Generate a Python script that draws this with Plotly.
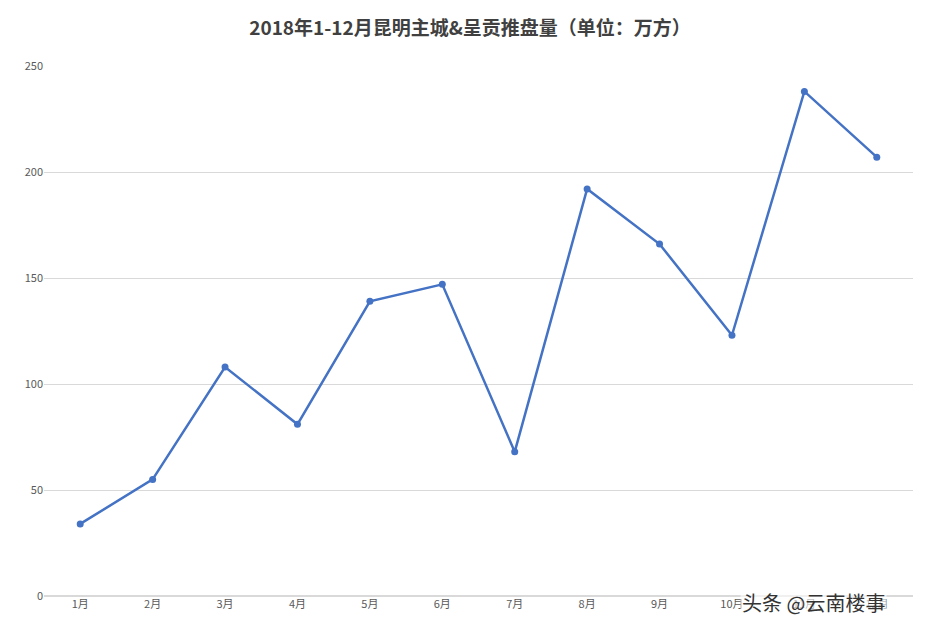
import plotly.graph_objects as go

months = ["1月", "2月", "3月", "4月", "5月", "6月", "7月", "8月", "9月", "10月", "11月", "12月"]
values = [34, 55, 108, 81, 139, 147, 68, 192, 166, 123, 238, 207]
y_ticks = [0, 50, 100, 150, 200, 250]

fig = go.Figure()
fig.add_trace(go.Scatter(
    x=months, y=values, mode="lines+markers",
    line=dict(color="#4472C4", width=2.5),
    marker=dict(size=7, color="#4472C4"),
    showlegend=False,
))

fig.update_layout(
    width=924, height=620,
    margin=dict(l=36, r=19, t=58, b=32),
    paper_bgcolor="white", plot_bgcolor="white",
    font=dict(family="Noto Sans CJK SC", size=11, color="#595959"),
    title=dict(text="<b>2018年1-12月昆明主城&呈贡推盘量（单位：万方）</b>",
               x=0.5, xanchor="center", y=0.967, yanchor="middle",
               font=dict(size=19, color="#404040")),
    xaxis=dict(range=[-0.5, 11.5], showgrid=False, showline=False, ticks="",
               tickfont=dict(size=11)),
    yaxis=dict(range=[0, 250], tickvals=y_ticks, gridcolor="#D9D9D9",
               zeroline=True, zerolinecolor="#D9D9D9", showline=False,
               tickfont=dict(size=11)),
    annotations=[dict(text="头条 @云南楼事", xref="paper", yref="paper",
                      x=0.97, y=-0.012, xanchor="right", yanchor="middle",
                      showarrow=False, bgcolor="rgba(255,255,255,0.6)",
                      font=dict(size=20, color="#333333"))],
)

fig.write_html("out.html")
